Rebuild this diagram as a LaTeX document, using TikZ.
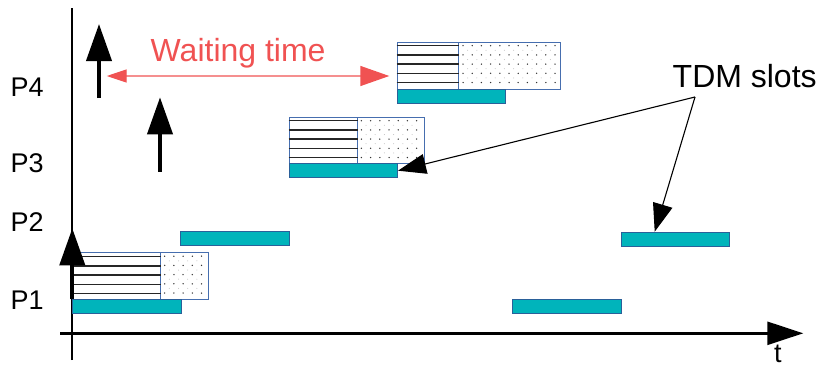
\documentclass[tikz,border=0pt]{standalone}
\usepackage{fontspec}
\setmainfont{Liberation Sans}
\usetikzlibrary{arrows.meta,calc}
\definecolor{slotfill}{RGB}{0,180,187}
\definecolor{slotedge}{RGB}{42,96,153}
\definecolor{boxedge}{RGB}{70,110,175}
\definecolor{waitred}{RGB}{240,82,82}
\begin{document}
\begin{tikzpicture}[x=1pt,y=-1pt,
  slot/.style={draw=slotedge, fill=slotfill, line width=0.8pt, inner sep=0, anchor=north west, minimum width=108.5pt, minimum height=14pt},
  part/.style={draw=boxedge, line width=0.9pt, fill=white, inner sep=0, anchor=north west},
  plabel/.style={font=\fontsize{27}{30}\selectfont, inner sep=0, anchor=base west},
  biglabel/.style={font=\fontsize{32}{36}\selectfont, inner sep=0, anchor=base west},
  axisline/.style={line width=2.5pt},
  uparrow/.style={line width=4pt, -{Triangle[length=37pt,width=25pt]}},
  tdmarrow/.style={line width=1.1pt, -{Triangle[length=28pt,width=20pt]}},
  waitarrow/.style={draw=waitred!65, line width=1.4pt, {Triangle[length=20pt,width=13pt,color=waitred]}-{Triangle[length=29pt,width=20pt,color=waitred]}},
  hatchline/.style={line width=1.3pt, black!85},
]
\useasboundingbox (0,0) rectangle (825,367);

% axes
\coordinate (xo) at (60,333.3);
\coordinate (xe) at (803.3,333.3);
\coordinate (yb) at (72,360);
\coordinate (yt) at (72,8);
\draw[axisline] (yb) -- (yt);
\draw[axisline, -{Triangle[length=36pt,width=23pt]}] (xo) -- (xe);

% request boxes (hatched + dotted parts)
\node[part, minimum width=88pt,  minimum height=47.6pt] (h1) at (72,251.7) {};
\node[part, minimum width=47.7pt, minimum height=47.6pt] (d1) at (160,251.7) {};
\node[part, minimum width=68pt,  minimum height=46.6pt] (h3) at (288.7,116.7) {};
\node[part, minimum width=67.6pt, minimum height=46.6pt] (d3) at (356.7,116.7) {};
\node[part, minimum width=61.6pt, minimum height=47pt] (h4) at (396.7,42.3) {};
\node[part, minimum width=101.7pt, minimum height=47pt] (d4) at (458.3,42.3) {};

\foreach \n/\off in {h1/5, h3/4, h4/3.4}{
  \foreach \k in {0,...,4}{
    \draw[hatchline] ($(\n.north west)+(0,\off+9.2*\k)$) -- ($(\n.north east)+(0,\off+9.2*\k)$);
  }
}
\foreach \n/\off/\cols in {d1/4.5/5, d3/4/7, d4/3.4/11}{
  \foreach \i in {1,...,\cols}{
    \foreach \k in {0,...,4}{
      \fill[black!80] ($(\n.north west)+(4.7+9.2*\i-9.2,\off+9.2*\k)$) circle (0.75pt);
    }
  }
}
\foreach \n/\off/\cols in {d1/4.5/4, d3/4/6, d4/3.4/10}{
  \foreach \i in {1,...,\cols}{
    \foreach \k in {0,...,3}{
      \fill[black!25] ($(\n.north west)+(9.3+9.2*\i-9.2,\off+4.6+9.2*\k)$) circle (0.5pt);
    }
  }
}

% TDM slots
\node[slot] (s1) at (72.3,299.3) {};
\node[slot] (s2) at (180,231.2) {};
\node[slot] (s3) at (288.7,163.3) {};
\node[slot] (s4) at (396.7,89.3) {};
\node[slot] (s5) at (512.3,299.3) {};
\node[slot] (s6) at (620.7,231.7) {};

% request arrows
\coordinate (a1b) at (99,98);
\coordinate (a1t) at (99,24);
\coordinate (a2b) at (160,171.7);
\coordinate (a2t) at (160,97.3);
\coordinate (a3t) at (72.3,228.3);
\draw[uparrow] (a1b) -- (a1t);
\draw[uparrow] (a2b) -- (a2t);
\draw[uparrow] (s1.north west) -- (a3t);

% waiting time
\node[biglabel, text=waitred] (wait) at (150.5,61.7) {Waiting time};
\coordinate (wl) at (106.7,76);
\coordinate (wr) at (389.3,76);
\draw[waitarrow] (wl) -- (wr);

% TDM label and pointers
\node[biglabel] (tdm) at (672.5,87.7) {TDM slots};
\coordinate (tdmfoot) at (695,97);
\draw[tdmarrow] (tdmfoot) -- (s3.east);
\draw[tdmarrow] (tdmfoot) -- ([xshift=34pt]s6.north west);

% processor labels
\node[plabel] (p4) at (10.5,96.7) {P4};
\node[plabel] (p3) at (10.5,172.7) {P3};
\node[plabel] (p2) at (10.5,231.7) {P2};
\node[plabel] (p1) at (10.5,309.3) {P1};
\node[plabel] (tl) at (773.8,362.5) {t};
\end{tikzpicture}
\end{document}
